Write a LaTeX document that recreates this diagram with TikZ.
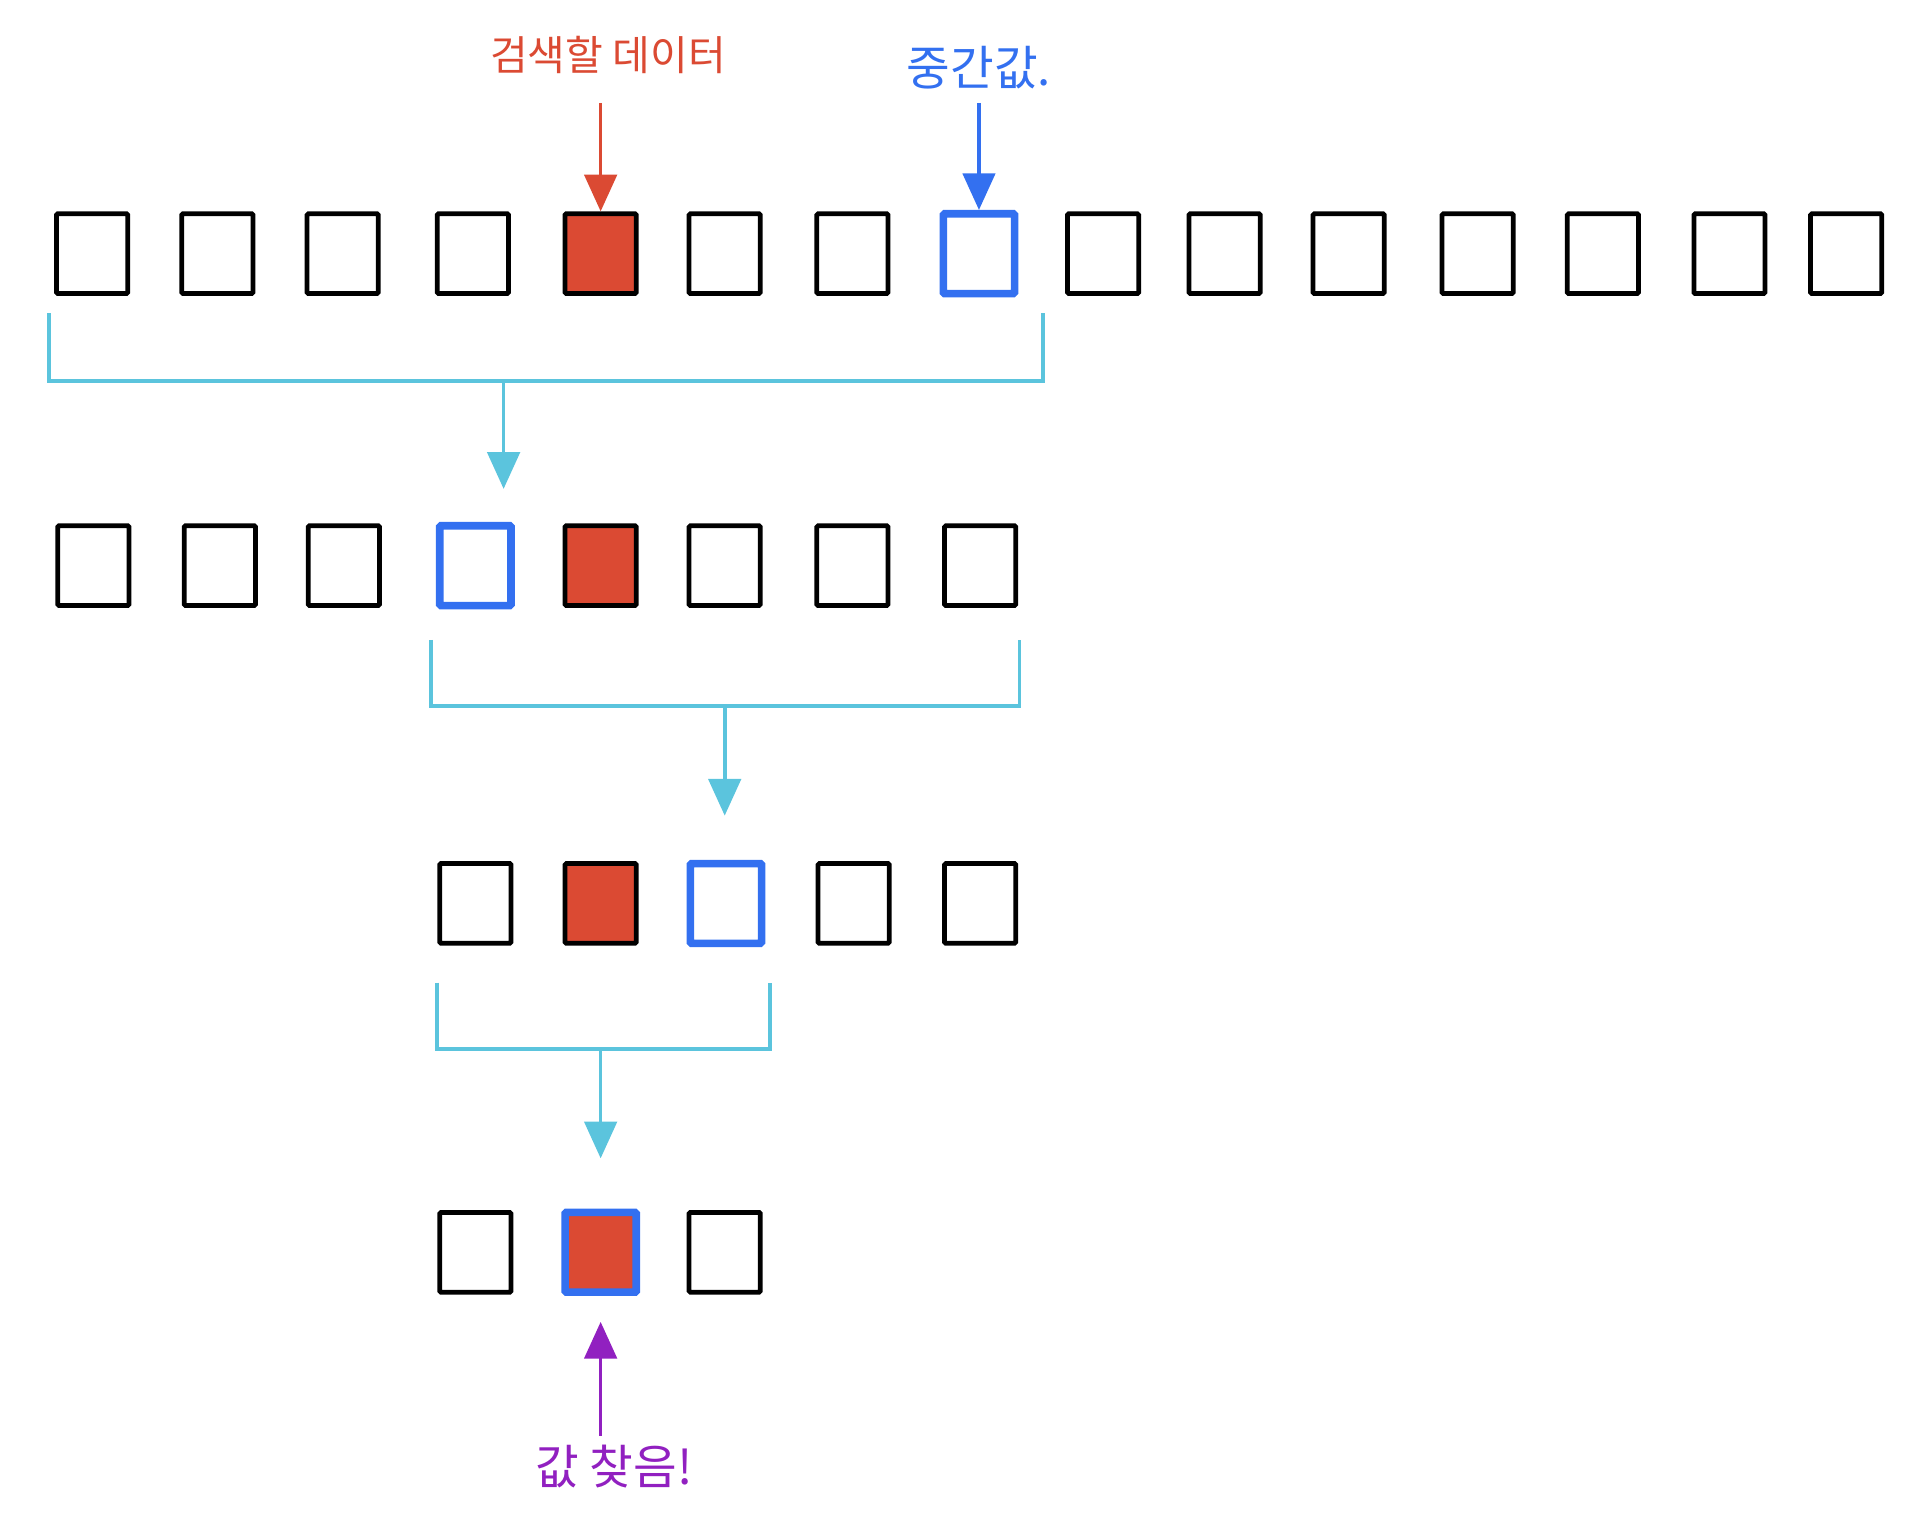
\documentclass[tikz,border=0pt]{standalone}
\usepackage{fontspec}
\newfontfamily\hangul{Noto Sans CJK KR}
\usetikzlibrary{arrows.meta}

\begin{document}
\begin{tikzpicture}[x=.02cm, y=-.02cm, thick]

	\definecolor{target}{RGB}{219 74 51}
	\definecolor{middle}{RGB}{51 112 240}
	\definecolor{split}{RGB}{91 196 221}
	\definecolor{found}{RGB}{145 32 192}

	\tikzset{
		cell/.style={draw=black, line width=2.2pt, minimum width=1.16cm, minimum height=1.3cm, inner sep=0pt, rounded corners=.6pt},
		key/.style={cell, fill=target},
		mid/.style={cell, draw=middle, line width=3.5pt},
		hit/.style={mid, fill=target},
		bracket/.style={draw=split, line width=1.7pt},
		pointer/.style={line width=1.7pt, -{Triangle[length=17pt, width=15pt]}},
		note/.style={font=\hangul\fontsize{#1}{#1}\selectfont, inner sep=0pt}
	}

	% page
	\useasboundingbox (0,0) rectangle (1568,1242);

	% first pass
	\foreach \x/\s [count=\i] in {75/cell, 177/cell, 279/cell, 385/cell, 489/key, 590/cell, 694/cell, 797/mid,
		898/cell, 997/cell, 1098/cell, 1203/cell, 1305/cell, 1408/cell, 1503/cell}
		\node[\s] (a\i) at (\x, 206.5) {};

	% second pass
	\foreach \x/\s [count=\i] in {76/cell, 179/cell, 280/cell, 387/mid, 489/key, 590/cell, 694/cell, 798/cell}
		\node[\s] (b\i) at (\x, 460.5) {};

	% third pass
	\foreach \x/\s [count=\i] in {387/cell, 489/key, 591/mid, 695/cell, 798/cell}
		\node[\s] (c\i) at (\x, 735.5) {};

	% last pass
	\foreach \x/\s [count=\i] in {387/cell, 489/hit, 590/cell}
		\node[\s] (d\i) at (\x, 1019.5) {};

	% brackets: left/right end, middle, arrow tip
	\foreach \l/\r/\top/\bot/\m/\tip [count=\i] in {40/849/255/310/410/398, 351/830/521/575/590/664, 356/627/800/854/489/943} {
		\coordinate (l\i) at (\l, \top);
		\coordinate (r\i) at (\r, \top);
		\coordinate (m\i) at (\m, \bot);
		\coordinate (t\i) at (\m, \tip);
		\draw[bracket] (l\i) |- (m\i) -| (r\i);
		\draw[bracket, pointer] (m\i) -- (t\i);
	}

	% labels
	\node[note=19, text=target] (want) at (495, 45) {검색할 데이터};
	\draw[pointer, draw=target, fill=target, shorten <=13pt] (want.south -| a5) -- (a5.north);

	\node[note=22, text=middle] (half) at (797, 55) {중간값.};
	\draw[pointer, draw=middle, fill=middle, shorten <=6pt] (half.south -| a8) -- (a8.north);

	\node[note=22, text=found] (done) at (500, 1194) {값 찾음!};
	\draw[pointer, draw=found, fill=found, shorten <=4pt, shorten >=12pt] (done.north -| d2) -- (d2.south);
\end{tikzpicture}
\end{document}
